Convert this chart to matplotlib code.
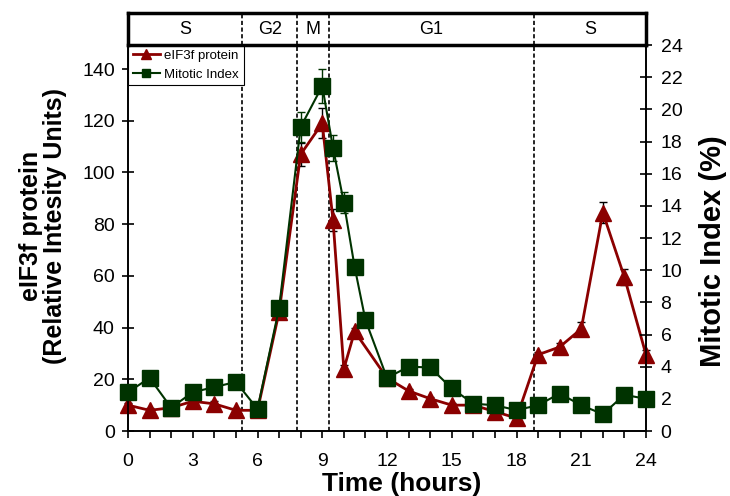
import matplotlib
matplotlib.use("Agg")
import matplotlib.pyplot as plt
from matplotlib.lines import Line2D

plt.rcParams['font.family'] = ['Liberation Sans', 'DejaVu Sans']

# eIF3f protein (left axis)
prot_hours = [0, 1, 2, 3, 4, 5, 6, 7, 8, 9, 9.5, 10, 10.5, 12, 13, 14, 15, 16, 17, 18, 19, 20, 21, 22, 23, 24]
prot_vals = [10, 8, 9, 11.5, 10.5, 8, 8, 46, 107, 119, 81.5, 24, 38.5, 20.5, 15.5, 12.5, 10, 10, 7.5, 5,
             29.5, 32.5, 39.5, 84.5, 59.5, 29.5]
prot_err = [1, 0.8, 0.8, 1, 1, 0.8, 0.8, 2, 4.5, 5.8, 4.2, 1.5, 1.5, 1, 0.8, 0.8, 0.8, 0.8, 0.8, 0.8,
            1.2, 1.5, 2.5, 4.2, 3, 1.8]

# Mitotic index (right axis)
mi_hours = [0, 1, 2, 3, 4, 5, 6, 7, 8, 9, 9.5, 10, 10.5, 11, 12, 13, 14, 15, 16, 17, 18, 19, 20, 21, 22, 23, 24]
mi_vals = [2.41, 3.3, 1.45, 2.41, 2.73, 3.05, 1.37, 7.64, 18.9, 21.45, 17.6, 14.2, 10.2, 6.9, 3.3, 4.0, 3.95,
           2.65, 1.7, 1.6, 1.3, 1.6, 2.33, 1.6, 1.05, 2.25, 2.0]
mi_err = [0.1, 0.1, 0.1, 0.1, 0.1, 0.1, 0.1, 0.2, 0.93, 1.04, 0.83, 0.67, 0.4, 0.2, 0.1, 0.1, 0.1,
          0.1, 0.1, 0.1, 0.1, 0.1, 0.1, 0.1, 0.1, 0.1, 0.15]

phase_bounds = [5.3, 7.85, 9.3, 18.8]
phase_labels = ["S", "G2", "M", "G1", "S"]
phase_centers = [2.65, 6.57, 8.57, 14.05, 21.4]

x_ticks = [0, 3, 6, 9, 12, 15, 18, 21, 24]
left_ticks = [0, 20, 40, 60, 80, 100, 120, 140]
right_ticks = list(range(0, 25, 2))

RED = '#8B0000'
GREEN = '#003300'

W, H = 730, 496
fig = plt.figure(figsize=(W / 100, H / 100), dpi=100)
ax = fig.add_axes([128 / W, (H - 431) / H, (646 - 128) / W, (431 - 45) / H])
ax2 = ax.twinx()

# protein
ax.errorbar(prot_hours, prot_vals, yerr=prot_err, color=RED, ecolor='black', elinewidth=1,
            capsize=3, capthick=1, lw=2, marker='^', ms=11, mfc=RED, mec=RED, clip_on=False, zorder=3)
# mitotic index
ax2.errorbar(mi_hours, mi_vals, yerr=mi_err, color=GREEN, ecolor=GREEN, elinewidth=1,
             capsize=3, capthick=1, lw=1.5, marker='s', ms=11, mfc=GREEN, mec=GREEN, clip_on=False, zorder=3)

for b in phase_bounds:
    ax.axvline(b, color='black', ls=(0, (2.5, 1.5)), lw=1.2, zorder=1)

ax.set_xlim(0, 24)
ax.set_ylim(0, 149.3)
ax2.set_ylim(0, 24)

ax.set_xticks(x_ticks)
ax.set_xticks(range(0, 25), minor=True)
ax.tick_params(axis='x', which='both', direction='out', length=5, width=1.2, labelsize=14, pad=11)
ax.set_yticks(left_ticks)
ax.tick_params(axis='y', direction='inout', length=9, width=1.2, labelsize=14, pad=5)
ax2.set_yticks(right_ticks)
ax2.tick_params(axis='y', direction='inout', length=9, width=1.2, labelsize=14, pad=6)

for a in (ax, ax2):
    a.spines['top'].set_visible(False)
    for s in ('left', 'right', 'bottom'):
        a.spines[s].set_linewidth(1.2)

fig.text(402 / W, 5 / H, "Time (hours)", fontsize=19, fontweight='bold', ha='center', va='baseline')
fig.text(43 / W, 1 - 226 / H, "eIF3f protein\n(Relative Intesity Units)", fontsize=18, fontweight='bold',
         rotation=90, ha='center', va='center', multialignment='center', linespacing=1.05)
fig.text(713 / W, 1 - 251 / H, "Mitotic Index (%)", fontsize=21, fontweight='bold',
         rotation=90, ha='center', va='center')

handles = [Line2D([], [], color=RED, lw=2, marker='^', ms=7, mfc=RED, mec=RED),
           Line2D([], [], color=GREEN, lw=1.5, marker='s', ms=6, mfc=GREEN, mec=GREEN)]
leg = ax2.legend(handles, ["eIF3f protein", "Mitotic Index"], loc='upper left', bbox_to_anchor=(0, 1),
                 borderaxespad=0, fontsize=9.5, fancybox=False, framealpha=1, edgecolor='black',
                 handlelength=2.1, handletextpad=0.3, borderpad=0.35, labelspacing=0.5)
leg.get_frame().set_linewidth(0.8)

# phase box
bx = fig.add_axes([128 / W, (H - 45) / H, (646 - 128) / W, 32 / H])
bx.set_xlim(0, 24)
bx.set_ylim(0, 1)
bx.set_xticks([])
bx.set_yticks([])
for s in bx.spines.values():
    s.set_linewidth(2.5)
for b in phase_bounds:
    bx.axvline(b, color='black', ls=(0, (2.5, 1.5)), lw=1.2)
for c, t in zip(phase_centers, phase_labels):
    bx.text(c, 0.5, t, ha='center', va='center', fontsize=13)

fig.savefig("out.png", dpi=100)
